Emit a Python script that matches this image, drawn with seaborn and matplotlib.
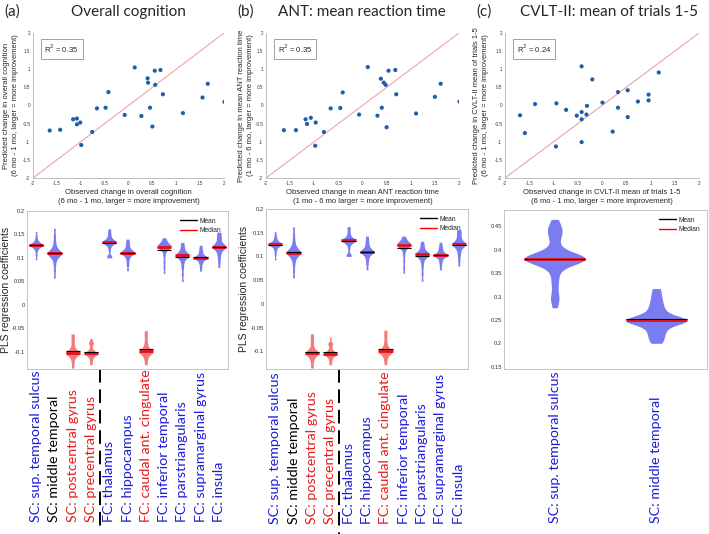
import numpy as np
import pandas as pd
import matplotlib
matplotlib.use("Agg")
import matplotlib.pyplot as plt
import matplotlib.transforms as mtransforms
from matplotlib.lines import Line2D
import seaborn as sns

# ---- scatter data: observed vs predicted change ----
obs_a = [-1.65, -1.43, -1.16, -1.08, -1.08, -1.01, -0.99, -0.76, -0.66, -0.48, -0.42, -0.08, 0.13,
         0.27, 0.40, 0.41, 0.45, 0.50, 0.55, 0.56, 0.67, 0.72, 1.14, 1.55, 1.66, 2.01]
pred_a = [-0.69, -0.67, -0.38, -0.36, -0.52, -0.47, -1.09, -0.73, -0.08, -0.06, 0.37, -0.26, 1.05,
          -0.29, 0.75, 0.63, -0.06, -0.58, 0.96, 0.57, 0.98, 0.31, -0.21, 0.22, 0.60, 0.10]
obs_b = [-1.63, -1.38, -1.18, -1.15, -1.07, -0.97, -0.98, -0.80, -0.66, -0.46, -0.41, -0.07, 0.11,
         0.31, 0.38, 0.40, 0.44, 0.48, 0.50, 0.54, 0.68, 0.70, 1.11, 1.50, 1.62, 2.01]
pred_b = [-0.68, -0.68, -0.38, -0.51, -0.34, -0.47, -1.11, -0.73, -0.08, -0.07, 0.36, -0.25, 1.06,
          -0.28, 0.74, -0.06, 0.63, 0.57, -0.60, 0.96, 0.98, 0.31, -0.22, 0.24, 0.60, 0.11]
obs_c = [-1.69, -1.59, -1.38, -0.94, -0.95, -0.74, -0.52, -0.42, -0.42, -0.42, -0.42, -0.32, -0.31,
         -0.20, 0.01, 0.22, 0.33, 0.33, 0.53, 0.53, 0.74, 0.96, 0.96, 1.17]
pred_c = [-0.27, -0.76, 0.04, 0.06, -1.13, -0.12, -0.28, 1.08, -0.18, -0.38, -1.01, -0.25, -0.01,
          0.72, 0.08, -0.72, 0.37, -0.06, 0.42, -0.32, 0.11, 0.30, 0.14, 0.91]
r2_values = [0.35, 0.35, 0.24]

panel_letters = ["(a)", "(b)", "(c)"]
panel_titles = ["Overall cognition", "ANT: mean reaction time", "CVLT-II: mean of trials 1-5"]
scatter_xlabels = [
    "Observed change in overall cognition\n(6 mo - 1 mo, larger = more improvement)",
    "Observed change in mean ANT reaction time\n(1 mo - 6 mo larger = more improvement)",
    "Observed change in CVLT-II mean of trials 1-5\n(6 mo - 1 mo, larger = more improvement)",
]
scatter_ylabels = [
    "Predicted change in overall cognition\n(6 mo - 1 mo, larger = more improvement)",
    "Predicted change in mean ANT reaction time\n(1 mo - 6 mo, larger = more improvement)",
    "Predicted change in CVLT-II mean of trials 1-5\n(6 mo - 1 mo, larger = more improvement)",
]
scatter_ticks = [-2, -1.5, -1, -0.5, 0, 0.5, 1, 1.5, 2]
scatter_ticklabels = ["-2", "-1.5", "-1", "-0.5", "0", "0.5", "1", "1.5", "2"]

# ---- PLS coefficient distributions (bootstrap samples) ----
regions_ab = ["SC: sup. temporal sulcus", "SC: middle temporal", "SC: postcentral gyrus",
              "SC: precentral gyrus", "FC: thalamus", "FC: hippocampus", "FC: caudal ant. cingulate",
              "FC: inferior temporal", "FC: parstriangularis", "FC: supramarginal gyrus", "FC: insula"]
label_colors_ab = ["#1c1cdc", "black", "#e81c1c", "#e81c1c", "#1c1cdc", "#1c1cdc", "#e81c1c",
                   "#1c1cdc", "#1c1cdc", "#1c1cdc", "#1c1cdc"]
regions_c = ["SC: sup. temporal sulcus", "SC: middle temporal"]
label_colors_c = ["#1c1cdc", "#1c1cdc"]

coef_a = [
    [0.096, 0.106, 0.114, 0.119, 0.122, 0.124, 0.125, 0.126, 0.127, 0.128, 0.128, 0.129, 0.130, 0.131, 0.133, 0.136, 0.140, 0.147, 0.156],
    [0.057, 0.072, 0.085, 0.094, 0.100, 0.104, 0.106, 0.108, 0.109, 0.110, 0.111, 0.112, 0.114, 0.117, 0.121, 0.127, 0.136, 0.148, 0.163],
    [-0.135, -0.126, -0.118, -0.113, -0.109, -0.107, -0.105, -0.104, -0.103, -0.102, -0.101, -0.099, -0.097, -0.094, -0.089, -0.082, -0.075, -0.068, -0.062],
    [-0.128, -0.121, -0.115, -0.111, -0.108, -0.106, -0.105, -0.104, -0.104, -0.103, -0.102, -0.100, -0.097, -0.093, -0.086, -0.081, -0.080, -0.072],
    [0.100, 0.103, 0.104, 0.116, 0.124, 0.128, 0.131, 0.132, 0.133, 0.134, 0.134, 0.135, 0.136, 0.138, 0.141, 0.145, 0.150, 0.156, 0.162],
    [0.073, 0.084, 0.092, 0.098, 0.103, 0.106, 0.108, 0.110, 0.111, 0.111, 0.112, 0.113, 0.115, 0.117, 0.120, 0.124, 0.129, 0.134, 0.140],
    [-0.128, -0.120, -0.114, -0.109, -0.106, -0.103, -0.102, -0.101, -0.100, -0.099, -0.098, -0.096, -0.093, -0.089, -0.084, -0.077, -0.069, -0.062, -0.055],
    [0.067, 0.080, 0.092, 0.104, 0.113, 0.118, 0.121, 0.122, 0.123, 0.124, 0.125, 0.126, 0.127, 0.129, 0.131, 0.134, 0.138, 0.143],
    [0.050, 0.065, 0.078, 0.087, 0.094, 0.099, 0.102, 0.104, 0.105, 0.106, 0.106, 0.107, 0.109, 0.112, 0.116, 0.121, 0.127, 0.133],
    [0.072, 0.080, 0.087, 0.091, 0.095, 0.097, 0.099, 0.100, 0.100, 0.101, 0.102, 0.103, 0.105, 0.108, 0.112, 0.116, 0.121, 0.127],
    [0.080, 0.091, 0.100, 0.107, 0.113, 0.117, 0.120, 0.122, 0.123, 0.124, 0.125, 0.126, 0.128, 0.131, 0.135, 0.140, 0.145, 0.150, 0.155],
]
coef_b = [
    [0.093, 0.104, 0.112, 0.117, 0.121, 0.123, 0.124, 0.125, 0.126, 0.126, 0.127, 0.128, 0.129, 0.131, 0.134, 0.138, 0.144, 0.152],
    [0.055, 0.070, 0.083, 0.092, 0.098, 0.102, 0.105, 0.107, 0.108, 0.108, 0.109, 0.111, 0.113, 0.116, 0.120, 0.126, 0.135, 0.147, 0.162],
    [-0.135, -0.127, -0.119, -0.114, -0.110, -0.107, -0.106, -0.105, -0.104, -0.103, -0.102, -0.100, -0.098, -0.095, -0.090, -0.083, -0.076, -0.069, -0.063],
    [-0.128, -0.122, -0.116, -0.112, -0.109, -0.107, -0.106, -0.105, -0.105, -0.104, -0.103, -0.101, -0.098, -0.094, -0.088, -0.083, -0.082, -0.070],
    [0.100, 0.103, 0.104, 0.116, 0.124, 0.128, 0.131, 0.132, 0.133, 0.134, 0.134, 0.135, 0.136, 0.138, 0.141, 0.145, 0.151, 0.157, 0.163],
    [0.072, 0.083, 0.091, 0.097, 0.102, 0.105, 0.107, 0.109, 0.110, 0.110, 0.111, 0.112, 0.114, 0.117, 0.120, 0.125, 0.130, 0.136, 0.143],
    [-0.128, -0.120, -0.114, -0.109, -0.106, -0.103, -0.102, -0.101, -0.100, -0.099, -0.098, -0.096, -0.093, -0.089, -0.084, -0.077, -0.069, -0.062, -0.055],
    [0.065, 0.078, 0.091, 0.103, 0.112, 0.118, 0.121, 0.122, 0.123, 0.124, 0.125, 0.126, 0.127, 0.129, 0.131, 0.134, 0.138, 0.143],
    [0.048, 0.063, 0.076, 0.086, 0.093, 0.098, 0.101, 0.103, 0.104, 0.105, 0.105, 0.106, 0.108, 0.111, 0.115, 0.120, 0.126, 0.132],
    [0.072, 0.081, 0.088, 0.093, 0.097, 0.100, 0.101, 0.102, 0.103, 0.103, 0.104, 0.106, 0.108, 0.111, 0.115, 0.119, 0.124, 0.130],
    [0.080, 0.092, 0.102, 0.109, 0.115, 0.119, 0.122, 0.124, 0.125, 0.126, 0.127, 0.128, 0.130, 0.133, 0.137, 0.142, 0.147, 0.152, 0.157],
]
coef_c = [
    [0.276, 0.295, 0.298, 0.318, 0.333, 0.346, 0.358, 0.366, 0.371, 0.375, 0.377, 0.378, 0.379, 0.380,
     0.380, 0.381, 0.381, 0.381, 0.382, 0.382, 0.383, 0.384, 0.385, 0.387, 0.391, 0.396, 0.404,
     0.416, 0.428, 0.434, 0.440, 0.447, 0.452, 0.465],
    [0.200, 0.208, 0.215, 0.222, 0.228, 0.234, 0.239, 0.243, 0.245, 0.247, 0.248, 0.249, 0.249, 0.250,
     0.251, 0.253, 0.255, 0.259, 0.264, 0.270, 0.277, 0.285, 0.294, 0.305, 0.317],
]
yticks_ab = [-0.1, -0.05, 0, 0.05, 0.1, 0.15, 0.2]
yticklabels_ab = ["-0.1", "-0.05", "0", "0.05", "0.1", "0.15", "0.2"]
yticks_c = [0.15, 0.2, 0.25, 0.3, 0.35, 0.4, 0.45]
yticklabels_c = ["0.15", "0.2", "0.25", "0.3", "0.35", "0.4", "0.45"]

POS_FILL = "#7b7bf2"
NEG_FILL = "#f27c7c"
DOT = "#1f5fa8"
GRID_GRAY = "#b4b4b4"

sns.set_theme(style="white")
plt.rcParams["font.family"] = ["Liberation Sans", "DejaVu Sans"]
TITLE_FONT = ["Lato", "DejaVu Sans"]

fig = plt.figure(figsize=(7.09, 5.34), dpi=100)
W, H = 709.0, 534.0


def px_axes(left, top, right, bottom):
    return fig.add_axes([left / W, 1 - bottom / H, (right - left) / W, (bottom - top) / H])


def draw_scatter(ax, x, y, r2, xlabel, ylabel, ylabel_x):
    df = pd.DataFrame({"observed": x, "predicted": y})
    ax.axline((0, 0), slope=1, color="#f2a3a3", lw=0.8, zorder=1)
    sns.scatterplot(data=df, x="observed", y="predicted", ax=ax, color=DOT, s=9,
                    edgecolor="none", zorder=3)
    ax.set_xlim(-2, 2)
    ax.set_ylim(-2, 2)
    ax.set_xticks(scatter_ticks, scatter_ticklabels)
    ax.set_yticks(scatter_ticks, scatter_ticklabels)
    ax.tick_params(labelsize=3.3, length=1.5, width=0.4, direction="in", pad=2, colors="#333333")
    for side in ["top", "right"]:
        ax.spines[side].set_visible(False)
    for side in ["left", "bottom"]:
        ax.spines[side].set_color(GRID_GRAY)
        ax.spines[side].set_linewidth(0.6)
    ax.set_xlabel(xlabel, fontsize=5.5, labelpad=2, linespacing=1.5)
    ax.set_ylabel(ylabel, fontsize=5.5, linespacing=1.5)
    ax.yaxis.set_label_coords(ylabel_x, 0.5)
    ax.text(0.06, 0.89, f"R$^2$ = {r2:.2f}", transform=ax.transAxes, fontsize=5.5,
            va="center", ha="left",
            bbox=dict(boxstyle="square,pad=0.5", fc="white", ec="#a0a0a0", lw=0.7))


def draw_violins(ax, regions, samples, colors, width, bw, ylim, yticks, yticklabels, ylabel,
                 ylabel_x, divider):
    rows = [(name, v) for name, vals in zip(regions, samples) for v in vals]
    df = pd.DataFrame(rows, columns=["region", "coef"])
    fills = {name: (POS_FILL if np.median(vals) > 0 else NEG_FILL)
             for name, vals in zip(regions, samples)}
    sns.violinplot(data=df, x="region", y="coef", hue="region", order=regions, hue_order=regions,
                   palette=fills, inner=None, cut=0, density_norm="width", width=width,
                   linewidth=0, saturation=1, bw_adjust=bw, legend=False, ax=ax)
    for i, vals in enumerate(samples):
        ax.hlines(np.median(vals), i - width / 2, i + width / 2, color="#e8101a", lw=2.0, zorder=4)
        ax.hlines(np.mean(vals), i - width / 2, i + width / 2, color="black", lw=0.8, zorder=5)
    ax.set_xlim(-0.5, len(regions) - 0.5)
    ax.set_ylim(*ylim)
    ax.set_yticks(yticks, yticklabels)
    ax.tick_params(axis="y", labelsize=4.2, length=0, pad=1.5, colors="#333333")
    ax.tick_params(axis="x", labelbottom=False, length=0)
    ax.set_xlabel("")
    ax.set_ylabel(ylabel, fontsize=7.5)
    ax.yaxis.set_label_coords(ylabel_x, 0.5)
    for s in ax.spines.values():
        s.set_color("#c4c4c4")
        s.set_linewidth(0.7)
    trans = mtransforms.blended_transform_factory(ax.transData, ax.transAxes)
    for i, (name, col) in enumerate(zip(regions, colors)):
        ax.text(i, -0.97, name, transform=trans, rotation=90, ha="center", va="bottom",
                color=col, fontsize=10.3, family=TITLE_FONT, clip_on=False)
    if divider is not None:
        ax.plot([divider, divider], [0, -1.03], transform=trans, color="black", lw=1.4,
                ls=(0, (7, 3.5)), clip_on=False)
    handles = [Line2D([], [], color="black", lw=1.0), Line2D([], [], color="red", lw=1.0)]
    ax.legend(handles, ["Mean", "Median"], loc="upper right", frameon=False, fontsize=4.8,
              handlelength=2.6, borderaxespad=0.6, labelspacing=0.35, handletextpad=0.4)


scatter_boxes = [(33, 33, 224, 178), (266, 33, 459, 178), (505, 33, 699, 178)]
scatter_label_x = [-0.072, -0.062, -0.08]
violin_boxes = [(27, 211, 228, 369), (266, 209, 468, 369), (504, 210, 707, 369)]
title_centers = [128, 362, 609]
letter_x = [4, 237, 476]
scatter_x = [obs_a, obs_b, obs_c]
scatter_y = [pred_a, pred_b, pred_c]

for k in range(3):
    ax = px_axes(*scatter_boxes[k])
    draw_scatter(ax, scatter_x[k], scatter_y[k], r2_values[k], scatter_xlabels[k],
                 scatter_ylabels[k], scatter_label_x[k])
    fig.text(letter_x[k] / W, 1 - 12 / H, panel_letters[k], fontsize=11, family=TITLE_FONT,
             va="center", ha="left")
    fig.text(title_centers[k] / W, 1 - 12 / H, panel_titles[k], fontsize=11, family=TITLE_FONT,
             va="center", ha="center")

ax = px_axes(*violin_boxes[0])
draw_violins(ax, regions_ab, coef_a, label_colors_ab, 0.78, 0.42, (-0.137, 0.2), yticks_ab,
             yticklabels_ab, "PLS regression coefficients", -0.078, 3.5)
ax = px_axes(*violin_boxes[1])
draw_violins(ax, regions_ab, coef_b, label_colors_ab, 0.78, 0.42, (-0.137, 0.2), yticks_ab,
             yticklabels_ab, "PLS regression coefficients", -0.085, 3.5)
ax = px_axes(*violin_boxes[2])
draw_violins(ax, regions_c, coef_c, label_colors_c, 0.6, 0.55, (0.145, 0.485), yticks_c,
             yticklabels_c, "", -0.1, None)

fig.savefig("out.png", dpi=100)
